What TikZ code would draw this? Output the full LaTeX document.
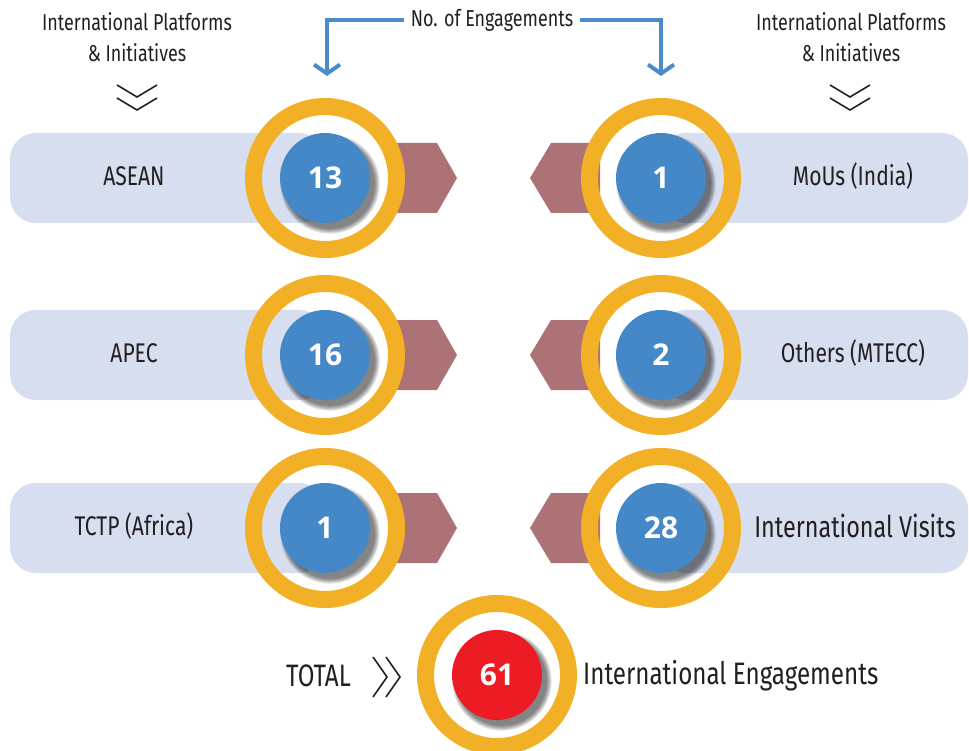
\documentclass[tikz,border=0pt]{standalone}
\usepackage{fontspec}
\setmainfont{Fira Sans}[FakeStretch=0.78]
\newfontfamily\numfont{Open Sans}
\usetikzlibrary{arrows.meta}
\definecolor{pillc}{HTML}{D6DEF0}
\definecolor{ringc}{HTML}{F2B027}
\definecolor{bluc}{HTML}{4488C8}
\definecolor{mauvec}{HTML}{AD7275}
\definecolor{txtc}{HTML}{231F20}
\definecolor{redc}{HTML}{ED1C24}
\definecolor{arrc}{HTML}{4A8CCB}
\tikzset{
  pillbox/.style={fill=pillc, rounded corners=26pt},
  hexbox/.style={fill=mauvec},
  numdisc/.style={circle, inner sep=0pt, minimum size=90pt, text=white, font=\numfont\bfseries\fontsize{30}{30}\selectfont},
  lbl/.style={text=txtc, inner sep=1pt, font=\fontsize{27}{27}\selectfont},
  hdr/.style={text=txtc, inner sep=1pt, align=center, font=\fontsize{23}{31}\selectfont},
  big/.style={text=txtc, inner sep=1pt, font=\fontsize{31}{31}\selectfont},
  bluearrow/.style={draw=arrc, line width=4pt, -{Straight Barb[length=9pt,width=26pt,line width=4pt]}},
  chev/.style={draw=txtc, line width=1.6pt},
}
\newcommand\mybadge[4]{%
  \fill[ringc, even odd rule] (#1,#2) circle (80pt) (#1,#2) circle (63pt);
  \foreach \k in {1,...,9} {\fill[black, opacity=0.07] (#1+5,#2+6) circle ({44pt+\k*0.65pt});}
  \node[numdisc, fill=#4] (#3) at (#1,#2) {\csname num#3\endcsname};
}
\begin{document}
\begin{tikzpicture}[x=1pt,y=-1pt]
\useasboundingbox (0,0) rectangle (969,751);
% pills
\fill[pillbox] (10,133) rectangle (325,223);
\fill[pillbox] (10,310) rectangle (325,400);
\fill[pillbox] (10,483) rectangle (325,573);
\fill[pillbox] (660,133) rectangle (968,223);
\fill[pillbox] (660,310) rectangle (968,400);
\fill[pillbox] (660,483) rectangle (968,573);
% hexagon arrows
\foreach \yy in {178,355,528} {
  \fill[hexbox] (390,\yy-35) -- (437,\yy-35) -- (457,\yy) -- (437,\yy+35) -- (390,\yy+35) -- cycle;
  \fill[hexbox] (600,\yy-35) -- (551,\yy-35) -- (530,\yy) -- (551,\yy+35) -- (600,\yy+35) -- cycle;
}
% badges
\def\numla{13}\def\numlb{16}\def\numlc{1}
\def\numra{1}\def\numrb{2}\def\numrc{28}\def\numtot{61}
\mybadge{325}{178}{la}{bluc}
\mybadge{325}{355}{lb}{bluc}
\mybadge{325}{528}{lc}{bluc}
\mybadge{661}{178}{ra}{bluc}
\mybadge{661}{355}{rb}{bluc}
\mybadge{661}{528}{rc}{bluc}
\mybadge{497}{675}{tot}{redc}
% labels
\node[lbl] (tla) at (134,176) {ASEAN};
\node[lbl] (tlb) at (134,353) {APEC};
\node[lbl] (tlc) at (134,526) {TCTP (Africa)};
\node[lbl] (tra) at (853,176) {MoUs (India)};
\node[lbl] (trb) at (853,353) {Others (MTECC)};
\node[lbl, font=\fontsize{30}{30}\selectfont] (trc) at (855,526) {International Visits};
% headers
\node[hdr] (hl) at (137,37) {International Platforms\\\& Initiatives};
\node[hdr] (hr) at (851,37) {International Platforms\\\& Initiatives};
\node[hdr] (eng) at (492,20) {No. of Engagements};
% header chevrons
\draw[chev] (117,85) -- (137,97) -- (157,85);
\draw[chev] (117,98) -- (137,110) -- (157,98);
\draw[chev] (830,85) -- (850,97) -- (870,85);
\draw[chev] (830,98) -- (850,110) -- (870,98);
% blue arrows
\coordinate (al) at (327,76);
\coordinate (ar) at (661,76);
\draw[bluearrow] ([xshift=-6pt]eng.west) -| (al);
\draw[bluearrow] ([xshift=6pt]eng.east) -| (ar);
% total row
\node[big, anchor=east] (total) at (352,676) {TOTAL};
\draw[chev] (373,657) -- (387,677) -- (373,697);
\draw[chev] (386,657) -- (400,677) -- (386,697);
\node[big, anchor=west] (ie) at (582,676) {International Engagements};
\end{tikzpicture}
\end{document}
